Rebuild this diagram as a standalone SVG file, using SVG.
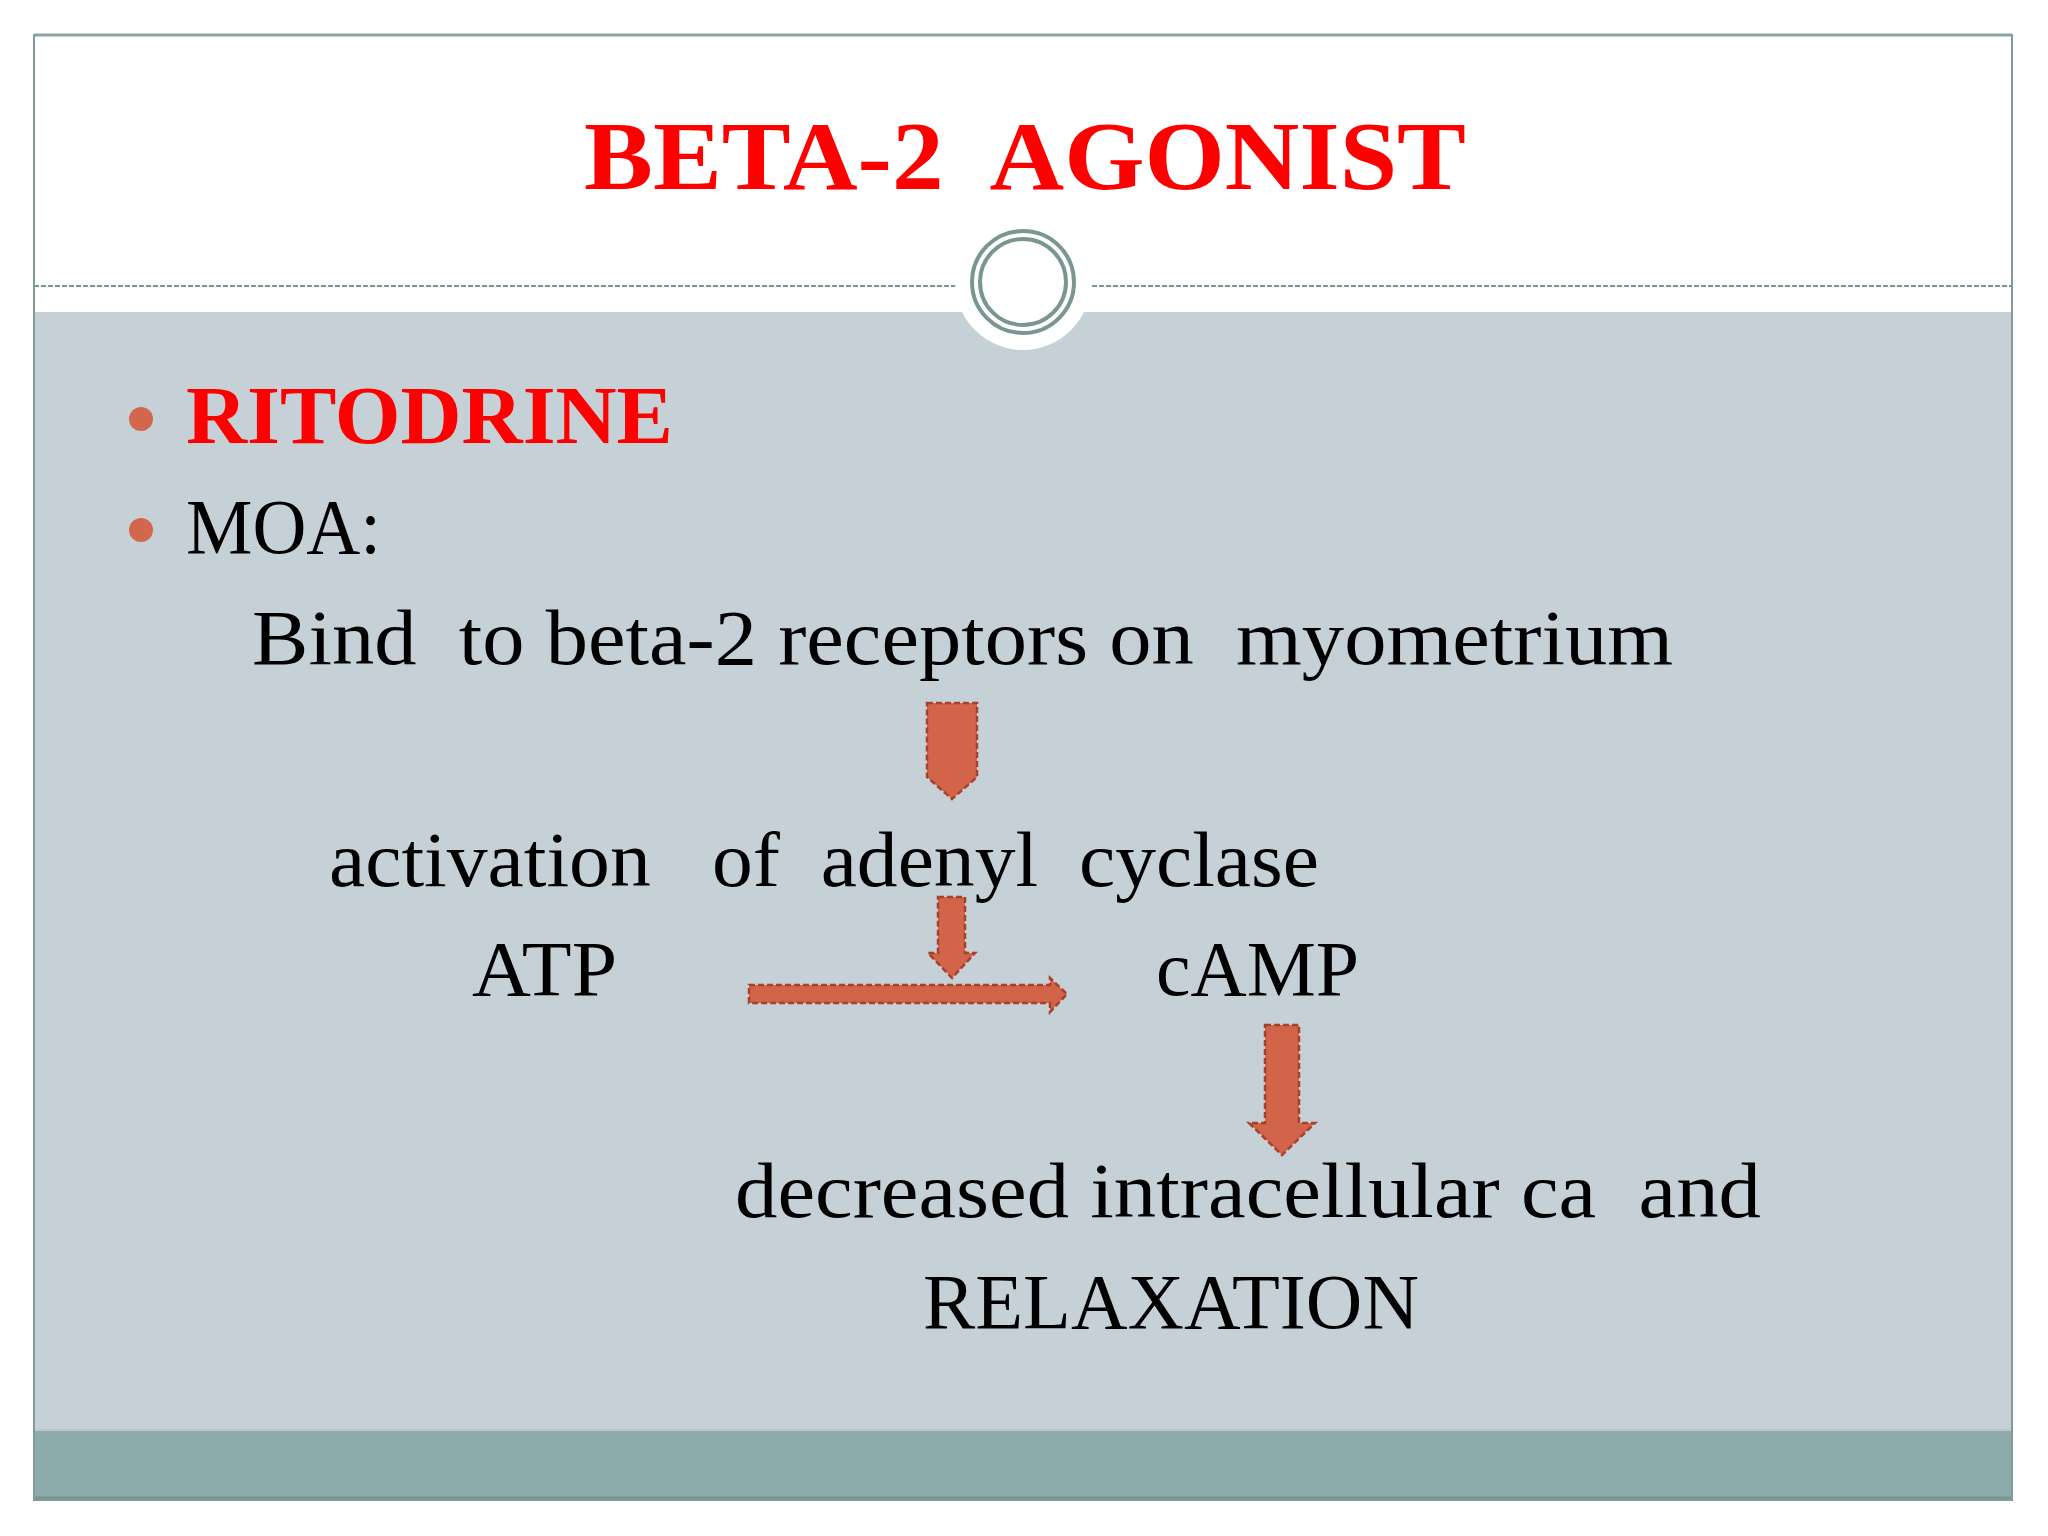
<svg xmlns="http://www.w3.org/2000/svg" width="2048" height="1536" viewBox="0 0 2048 1536">
<style>
.t{font-family:"Liberation Serif","Times New Roman",serif;fill:#000}
.b{font-size:78px}
.red{fill:#FF0000;font-weight:bold}
.arr{fill:#D2644A;stroke:#A8402C;stroke-width:2.5;stroke-dasharray:6 3}
.ring{fill:none;stroke:#7A9690;stroke-width:4}
.bul{fill:#D2674E}
</style>
<rect x="0" y="0" width="2048" height="1536" fill="#FFFFFF"/>
<g id="frame">
<rect x="34" y="312" width="1978" height="1118" fill="#C5D1D6"/>
<rect x="34" y="1430" width="1978" height="70" fill="#8DABAB"/>
<line x1="34" y1="1430" x2="2012" y2="1430" stroke="#B9C7CA" stroke-width="2"/>
<line x1="34" y1="1498" x2="2012" y2="1498" stroke="#76988F" stroke-width="3"/>
<rect x="34" y="35" width="1978" height="1465" fill="none" stroke="#7F9C9A" stroke-width="2"/>
<line x1="34" y1="35" x2="2012" y2="35" stroke="#8AA3A1" stroke-width="3"/>
<line x1="34" y1="286" x2="956" y2="286" stroke="#7A9690" stroke-width="2" stroke-dasharray="5 2"/>
<line x1="1092" y1="286" x2="2012" y2="286" stroke="#7A9690" stroke-width="2" stroke-dasharray="5 2"/>
<circle cx="1023" cy="282" r="68" fill="#FFFFFF"/>
<circle class="ring" cx="1023" cy="282" r="51"/>
<circle class="ring" cx="1023" cy="282" r="43"/>
</g>
<g id="title">
<text class="t red" x="584" y="189" font-size="97" textLength="882" lengthAdjust="spacingAndGlyphs" xml:space="preserve">BETA-2  AGONIST</text>
</g>
<g id="bullets">
<circle class="bul" cx="141" cy="419" r="12"/>
<text class="t red" x="186" y="443" font-size="82" textLength="487" lengthAdjust="spacingAndGlyphs">RITODRINE</text>
<circle class="bul" cx="141" cy="530" r="12"/>
<text class="t" x="186" y="553" font-size="79" textLength="195" lengthAdjust="spacingAndGlyphs">MOA:</text>
</g>
<g id="node-bind">
<text class="t b" x="252" y="664" textLength="1421" lengthAdjust="spacingAndGlyphs" xml:space="preserve">Bind  to beta-2 receptors on  myometrium</text>
</g>
<g id="node-activation">
<text class="t b" x="329" y="886" textLength="990" lengthAdjust="spacingAndGlyphs" xml:space="preserve">activation   of  adenyl  cyclase</text>
</g>
<g id="node-atp">
<text class="t b" x="472" y="995" textLength="145" lengthAdjust="spacingAndGlyphs">ATP</text>
</g>
<g id="node-camp">
<text class="t b" x="1156" y="995" textLength="203" lengthAdjust="spacingAndGlyphs">cAMP</text>
</g>
<g id="node-decreased">
<text class="t b" x="735" y="1217" textLength="1026" lengthAdjust="spacingAndGlyphs" xml:space="preserve">decreased intracellular ca  and</text>
<text class="t b" x="923" y="1328" textLength="496" lengthAdjust="spacingAndGlyphs">RELAXATION</text>
</g>
<g id="connectors">
<polygon class="arr" points="927,703 977,703 977,777 952,799 927,777"/>
<polygon class="arr" points="938,897 965,897 965,953 975,953 952,978 928,953 938,953"/>
<polygon class="arr" points="749,985 1050,985 1050,978 1067,994 1050,1012 1050,1003 749,1003"/>
<polygon class="arr" points="1265,1025 1299,1025 1299,1123 1315,1123 1282,1155 1249,1123 1265,1123"/>
</g>
</svg>
